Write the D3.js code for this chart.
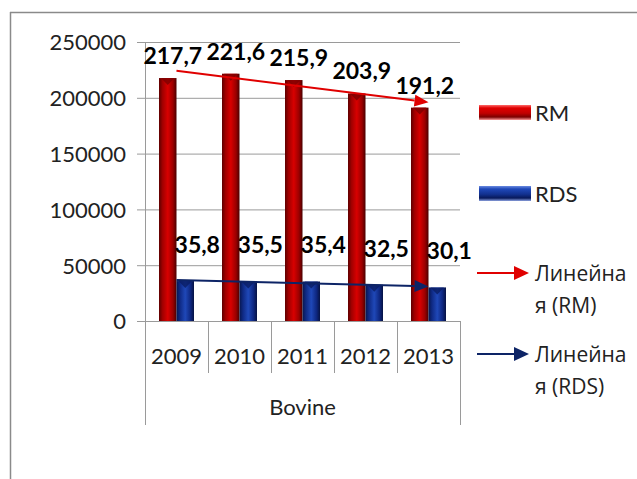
<!DOCTYPE html>
<html>
<head>
<meta charset="utf-8">
<script src="https://cdn.jsdelivr.net/npm/d3@7"></script>
<style>
  body { margin: 0; background: #fff; }
  svg { display: block; font-family: Lato, "Open Sans", sans-serif; }
</style>
</head>
<body>
<svg id="chart" width="637" height="479"></svg>
<script>
// data (values in heads, labels in thousands)
var years = ["2009", "2010", "2011", "2012", "2013"]
var groupName = "Bovine"
var rmValues = [217700, 221600, 215900, 203900, 191200]
var rdsValues = [35800, 35500, 35400, 32500, 30100]
var yTicks = [0, 50000, 100000, 150000, 200000, 250000]
var seriesNames = ["RM", "RDS"]
var trendNames = ["Линейная (RM)", "Линейная (RDS)"]

const svg = d3.select('#chart')

// plot box
const plot = {left: 145, right: 460, top: 42, bottom: 321}

const x = d3.scaleBand().domain(years).range([plot.left, plot.right])
const xSub = d3.scaleBand().domain(seriesNames).range([0, x.bandwidth()]).paddingOuter(0.8)
const y = d3.scaleLinear().domain([0, 250000]).range([plot.bottom, plot.top])

// gradients for the bevelled bars
const defs = svg.append('defs')
function addGrad(id, stops){
    const g = defs.append('linearGradient').attr('id', id).attr('x1', 0).attr('x2', 1).attr('y1', 0).attr('y2', 0)
    stops.forEach(s => g.append('stop').attr('offset', s[0]).attr('stop-color', s[1]))
}
addGrad('gradRM', [[0, '#5e0000'], [0.2, '#a00000'], [0.5, '#d80000'], [0.8, '#9a0000'], [1, '#4a0000']])
addGrad('gradRDS', [[0, '#07174f'], [0.2, '#0f2a85'], [0.5, '#1f48b8'], [0.8, '#0e2780'], [1, '#061243']])
function addGradV(id, stops){
    const g = defs.append('linearGradient').attr('id', id).attr('x1', 0).attr('x2', 0).attr('y1', 0).attr('y2', 1)
    stops.forEach(s => g.append('stop').attr('offset', s[0]).attr('stop-color', s[1]))
}
addGradV('legRM', [[0, '#ff6a6a'], [0.2, '#e00000'], [0.55, '#c00000'], [0.8, '#7a0000'], [1, '#ff9a9a']])
addGradV('legRDS', [[0, '#6a8ae0'], [0.2, '#1f48b8'], [0.55, '#12318f'], [0.8, '#08195a'], [1, '#8aa0e0']])

// outer frame (only left + top are inside the picture)
svg.append('line').attr('x1', 10.5).attr('x2', 10.5).attr('y1', 12).attr('y2', 479).attr('stroke', '#8a8a8a').attr('stroke-width', 1.5)
svg.append('line').attr('x1', 10).attr('x2', 637).attr('y1', 12.5).attr('y2', 12.5).attr('stroke', '#8a8a8a').attr('stroke-width', 1.5)

// gridlines + y axis
const yAxis = d3.axisLeft(y).tickValues(yTicks).tickSize(-(plot.right - plot.left) - 8).tickPadding(19).tickFormat(d3.format('d'))
const gy = svg.append('g').attr('transform', `translate(${plot.left + 0},0)`)
gy.call(yAxis)
gy.selectAll('.tick line').attr('stroke', '#9a9a9a').attr('x1', -8).attr('x2', plot.right - plot.left)
gy.selectAll('.tick text').style('font', '22px Lato').attr('fill', '#222').attr('dy', '0.36em')
gy.select('.domain').remove()
svg.append('line').attr('x1', plot.left + 0.5).attr('x2', plot.left + 0.5).attr('y1', plot.top).attr('y2', plot.bottom).attr('stroke', '#9a9a9a')

// category separators
const edges = years.map(d => x(d)).concat([plot.right])
svg.append('g').selectAll('line').data(edges).join('line')
    .attr('x1', d => d + 0.5).attr('x2', d => d + 0.5)
    .attr('y1', plot.bottom)
    .attr('y2', (d, i) => (i == 0 || i == edges.length - 1) ? 425 : 373)
    .attr('stroke', '#9a9a9a')
svg.append('line').attr('x1', plot.left).attr('x2', plot.right).attr('y1', plot.bottom + 0.5).attr('y2', plot.bottom + 0.5).attr('stroke', '#9a9a9a')

svg.append('g').selectAll('text').data(years).join('text')
    .attr('x', d => x(d) + x.bandwidth() / 2).attr('y', 364)
    .attr('text-anchor', 'middle').style('font', '22px Lato').attr('fill', '#222')
    .text(d => d)
svg.append('text').attr('x', (plot.left + plot.right) / 2).attr('y', 415)
    .attr('text-anchor', 'middle').style('font', '22px Lato').attr('fill', '#222').text(groupName)

// bars
const series = [
    {key: "RM", values: rmValues, fill: 'url(#gradRM)', cap: '#7a0000', trend: '#e00000'},
    {key: "RDS", values: rdsValues, fill: 'url(#gradRDS)', cap: '#0a1d63', trend: '#0d2466'}
]
series.forEach(function(s){
    const g = svg.append('g')
    const w = xSub.bandwidth()
    g.selectAll('rect').data(s.values).join('rect')
        .attr('x', (d, i) => x(years[i]) + xSub(s.key))
        .attr('y', d => y(d))
        .attr('width', w)
        .attr('height', d => y(0) - y(d))
        .attr('fill', s.fill)
    // little bevel triangle at the top of each bar
    g.selectAll('path').data(s.values).join('path')
        .attr('d', (d, i) => {
            const x0 = x(years[i]) + xSub(s.key)
            return `M${x0 + 2},${y(d)}L${x0 + w - 2},${y(d)}L${x0 + w / 2},${y(d) + 7}Z`
        })
        .attr('fill', s.cap).attr('opacity', 0.8)
})

// linear trend lines with arrow heads
series.forEach(function(s, k){
    const n = s.values.length
    const xs = d3.range(1, n + 1)
    const mx = d3.mean(xs), my = d3.mean(s.values)
    const slope = d3.sum(xs, (v, i) => (v - mx) * (s.values[i] - my)) / d3.sum(xs, v => (v - mx) * (v - mx))
    const at = v => my + slope * (v - mx)
    const cx = i => x(years[i]) + x.bandwidth() / 2
    const x1 = cx(0), y1 = y(at(1)), x2 = cx(n - 1), y2 = y(at(n))
    const ang = Math.atan2(y2 - y1, x2 - x1)
    const len = 14, half = 6
    const bx = x2 - len * Math.cos(ang), by = y2 - len * Math.sin(ang)
    svg.append('line').attr('x1', x1).attr('y1', y1).attr('x2', bx).attr('y2', by)
        .attr('stroke', s.trend).attr('stroke-width', 2)
    svg.append('path')
        .attr('d', `M${x2},${y2}L${bx - half * Math.sin(ang)},${by + half * Math.cos(ang)}L${bx + half * Math.sin(ang)},${by - half * Math.cos(ang)}Z`)
        .attr('fill', s.trend)
})

// data labels
const fmt = v => (v / 1000).toFixed(1).replace('.', ',')
svg.append('g').selectAll('text').data(rmValues).join('text')
    .attr('x', (d, i) => x(years[i]) + xSub("RM") + xSub.bandwidth() / 2 + 5)
    .attr('y', d => y(d) - 14)
    .attr('text-anchor', 'middle').style('font', 'bold 23px Lato').attr('fill', '#000')
    .text(fmt)
svg.append('g').selectAll('text').data(rdsValues).join('text')
    .attr('x', (d, i) => x(years[i]) + xSub("RDS") + xSub.bandwidth() / 2 + 12)
    .attr('y', d => y(d) - 28)
    .attr('text-anchor', 'middle').style('font', 'bold 23px Lato').attr('fill', '#000')
    .text(fmt)

// legend
const leg = svg.append('g')
const legFill = ['url(#legRM)', 'url(#legRDS)']
const legY = [105, 186]
seriesNames.forEach(function(name, i){
    leg.append('rect').attr('x', 479).attr('y', legY[i]).attr('width', 52).attr('height', 15).attr('fill', legFill[i])
    leg.append('text').attr('x', 535).attr('y', legY[i] + 16).style('font', '22px Lato').attr('fill', '#222').text(name)
})
const trendY = [273, 354]
trendNames.forEach(function(name, i){
    const c = series[i].trend
    leg.append('line').attr('x1', 477).attr('x2', 516).attr('y1', trendY[i]).attr('y2', trendY[i]).attr('stroke', c).attr('stroke-width', 2)
    leg.append('path').attr('d', `M529,${trendY[i]}L514,${trendY[i] - 7}L514,${trendY[i] + 7}Z`).attr('fill', c)
    // Excel wraps the long name after "Линейна"
    const t = leg.append('text').attr('x', 535).attr('y', trendY[i] + 8).style('font', '21px "Open Sans"').attr('fill', '#222')
    t.append('tspan').attr('x', 535).text(name.slice(0, 7))
    t.append('tspan').attr('x', 535).attr('dy', 32).text(name.slice(7))
})
</script>
</body>
</html>
